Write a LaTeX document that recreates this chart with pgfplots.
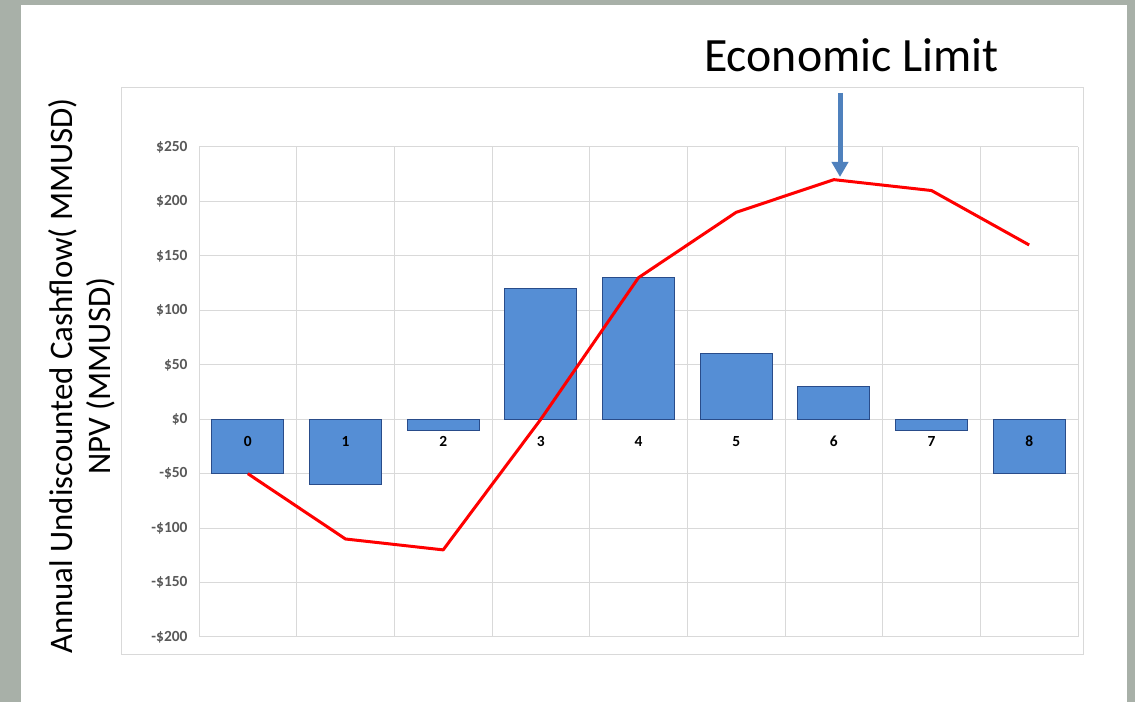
\documentclass[border=0pt]{standalone}
\usepackage{fontspec}
\setmainfont{Carlito}
\usepackage{pgfplots}
\pgfplotsset{compat=1.18}
\usetikzlibrary{arrows.meta}
\definecolor{bgray}{RGB}{168,176,168}
\definecolor{gridc}{RGB}{217,217,217}
\definecolor{barfill}{RGB}{85,142,213}
\definecolor{barline}{RGB}{41,76,138}
\definecolor{tickc}{RGB}{89,89,89}
\definecolor{arrowc}{RGB}{79,129,189}
\begin{document}
\begin{tikzpicture}[x=1bp,y=1bp]
\fill[bgray] (0,0) rectangle (1135,702);
\useasboundingbox (0,0) rectangle (1135,702);
\fill[white] (21,0) rectangle (1127,697);
\draw[gridc, line width=1bp] (121,47) rectangle (1083,614);
\begin{axis}[
  at={(199bp,65bp)}, anchor=south west, scale only axis,
  width=879bp, height=490bp,
  xmin=-0.5, xmax=8.5, ymin=-200, ymax=250,
  xtick={-0.5,0.5,1.5,2.5,3.5,4.5,5.5,6.5,7.5,8.5}, xticklabels={},
  ytick={-200,-150,-100,-50,0,50,100,150,200,250},
  yticklabels={-\$200,-\$150,-\$100,-\$50,\$0,\$50,\$100,\$150,\$200,\$250},
  grid=major, grid style={gridc, line width=1bp},
  axis line style={draw=none}, major tick length=0pt,
  /pgf/number format/assume math mode=true,
  yticklabel style={font=\fontsize{15.5}{17}\selectfont\bfseries, text=tickc, xshift=-8bp},
  clip=false,
]
\addplot[ybar, bar width=0.737, fill=barfill, draw=barline, line width=1bp]
  coordinates {(0,-50) (1,-60) (2,-10) (3,120) (4,130) (5,60) (6,30) (7,-10) (8,-50)};
\addplot[red, line width=3bp, line join=round, mark=none]
  coordinates {(0,-50) (1,-110) (2,-120) (3,0) (4,130) (5,190) (6,220) (7,210) (8,160)};
\pgfplotsinvokeforeach{0,...,8}{
  \node[font=\fontsize{15.5}{17}\selectfont\bfseries, text=black] at (axis cs:#1,0) [yshift=-22bp] {#1};
}
\end{axis}
\draw[arrowc, line width=5bp, -{Triangle[width=16bp,length=15bp]}] (840,609) -- (840,525);
\node[anchor=base west, font=\fontsize{48}{52}\selectfont, inner sep=0] at (704,630) {Economic Limit};
\node[rotate=90, anchor=base, font=\fontsize{33}{38}\selectfont, inner sep=0] at (72,326) {Annual Undiscounted Cashflow( MMUSD)};
\node[rotate=90, anchor=base, font=\fontsize{33}{38}\selectfont, inner sep=0] at (110,326) {NPV (MMUSD)};
\end{tikzpicture}
\end{document}
